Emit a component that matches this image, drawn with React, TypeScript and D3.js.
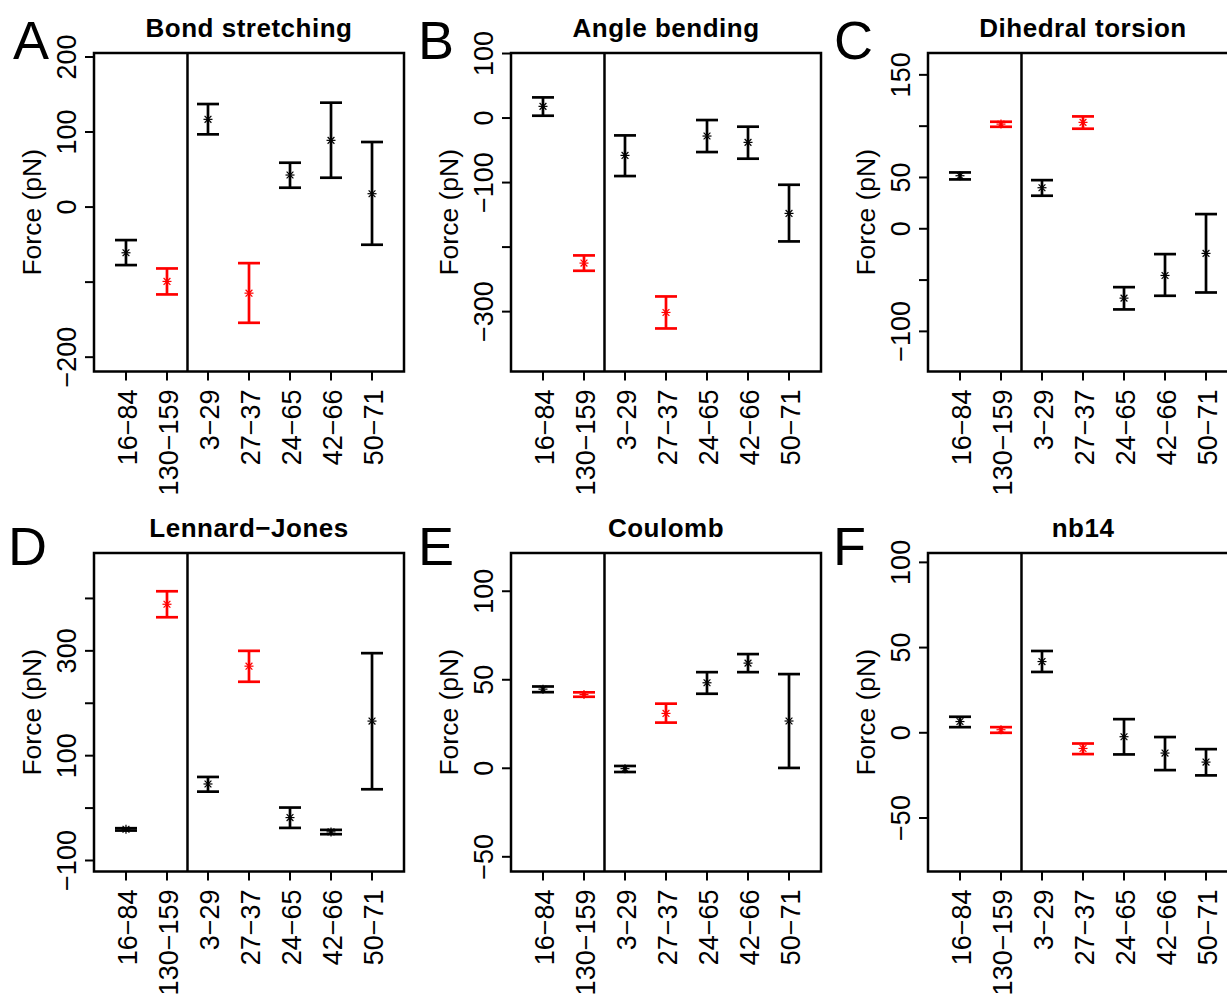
import React from "react";
import * as d3 from "d3";

const categories = ["16−84", "130−159", "3−29", "27−37", "24−65", "42−66", "50−71"];
const highlighted = [false, true, false, true, false, false, false];

const bondMean = [-60.9, -99.1, 116.9, -114.7, 42.7, 88.9, 17.8];
const bondLow = [-77.3, -116.4, 96.9, -154.2, 25.8, 39.1, -50.2];
const bondHigh = [-44, -81.8, 137.3, -74.7, 59.1, 139.1, 86.7];

const angleMean = [18.1, -224.8, -57.9, -301.3, -27.9, -37.7, -147.8];
const angleLow = [3.6, -236.7, -89.9, -326.1, -52.7, -63, -191.2];
const angleHigh = [32, -212.9, -26.9, -276.5, -3.1, -13.4, -103.4];

const dihedralMean = [51.7, 102, 40, 103.7, -67.6, -45.5, -24];
const dihedralLow = [48.1, 99.4, 32.2, 97.5, -78.6, -65.3, -62.1];
const dihedralHigh = [54.9, 104.3, 47.4, 109.5, -56.9, -24.7, 14.3];

const ljMean = [-40.3, 388.9, 46, 270.8, -18.1, -45.4, 166];
const ljLow = [-42.9, 364.1, 31.4, 241, -37.8, -49.8, 35.9];
const ljHigh = [-38.4, 413.7, 59.4, 300, 1, -41.6, 295.6];

const coulMean = [44.7, 41.7, -0.2, 31, 48.3, 59.4, 26.7];
const coulLow = [43, 40.4, -2.1, 25.8, 42.1, 54.3, 0.2];
const coulHigh = [46.2, 42.9, 1.3, 36.5, 54.3, 64.5, 53.2];

const nbMean = [6.6, 1.8, 41.8, -9.2, -2.3, -11.9, -17.2];
const nbLow = [3.3, 0, 35.7, -12.5, -12.7, -21.9, -25];
const nbHigh = [9.4, 3.3, 48, -6.3, 8, -2.5, -9.6];

const titles = ["Bond stretching", "Angle bending", "Dihedral torsion", "Lennard−Jones", "Coulomb", "nb14"];
const letters = ["A", "B", "C", "D", "E", "F"];

const yTicksA = [-200, -100, 0, 100, 200];
const yLabelsA = ["−200", "", "0", "100", "200"];
const yTicksB = [-300, -200, -100, 0, 100];
const yLabelsB = ["−300", "", "−100", "0", "100"];
const yTicksC = [-100, -50, 0, 50, 100, 150];
const yLabelsC = ["−100", "", "0", "50", "", "150"];
const yTicksD = [-100, 0, 100, 200, 300, 400];
const yLabelsD = ["−100", "", "100", "", "300", ""];
const yTicksE = [-50, 0, 50, 100];
const yLabelsE = ["−50", "0", "50", "100"];
const yTicksF = [-50, 0, 50, 100];
const yLabelsF = ["−50", "0", "50", "100"];

const panels = [
  { mean: bondMean, low: bondLow, high: bondHigh, domain: [-219.1, 205.3], ticks: yTicksA, labels: yLabelsA },
  { mean: angleMean, low: angleLow, high: angleHigh, domain: [-392.8, 100.8], ticks: yTicksB, labels: yLabelsB },
  { mean: dihedralMean, low: dihedralLow, high: dihedralHigh, domain: [-139.1, 171.3], ticks: yTicksC, labels: yLabelsC },
  { mean: ljMean, low: ljLow, high: ljHigh, domain: [-121, 486.7], ticks: yTicksD, labels: yLabelsD },
  { mean: coulMean, low: coulLow, high: coulHigh, domain: [-58.3, 121.6], ticks: yTicksE, labels: yLabelsE },
  { mean: nbMean, low: nbLow, high: nbHigh, domain: [-81.4, 105.5], ticks: yTicksF, labels: yLabelsF },
];

const boxLefts = [94, 511, 928];
const boxTops = [53, 553];
const letterX = [[13, 418, 834], [8, 418, 833]];
const letterBaseline = [59, 565];
const BOX_W = 310;
const BOX_H = 318.5;
const FONT = "'Liberation Sans', Arial, Helvetica, sans-serif";

function Panel({ idx }: { idx: number }) {
  const p = panels[idx];
  const col = idx % 3;
  const row = Math.floor(idx / 3);
  const left = boxLefts[col];
  const top = boxTops[row];
  const x = d3.scaleLinear().domain([0.22, 7.78]).range([left, left + BOX_W]);
  const y = d3.scaleLinear().domain(p.domain).range([top + BOX_H, top]);
  const bottom = top + BOX_H;
  const capHalf = 11;
  const s = 4.5;
  const d = 3.4;
  return (
    <g>
      <text x={letterX[row][col]} y={letterBaseline[row]} fontSize={54} fontFamily={FONT}>
        {letters[idx]}
      </text>
      <text
        x={left + BOX_W / 2}
        y={top - 16}
        fontSize={26}
        fontWeight="bold"
        textAnchor="middle"
        letterSpacing={0.5}
        fontFamily={FONT}
      >
        {titles[idx]}
      </text>
      <text
        transform={`translate(${left - 53},${top + BOX_H / 2}) rotate(-90)`}
        fontSize={26.5}
        textAnchor="middle"
        fontFamily={FONT}
      >
        Force (pN)
      </text>
      {p.ticks.map((t, i) => (
        <g key={"yt" + i}>
          <line x1={left - 9} x2={left} y1={y(t)} y2={y(t)} stroke="#000" strokeWidth={2} />
          {p.labels[i] !== "" && (
            <text
              transform={`translate(${left - 18},${y(t)}) rotate(-90)`}
              fontSize={27}
              textAnchor="middle"
              fontFamily={FONT}
            >
              {p.labels[i]}
            </text>
          )}
        </g>
      ))}
      {categories.map((c, i) => (
        <g key={"xt" + i}>
          <line x1={x(i + 1)} x2={x(i + 1)} y1={bottom} y2={bottom + 9} stroke="#000" strokeWidth={2} />
          <text
            transform={`translate(${x(i + 1) + 11},${bottom + 18}) rotate(-90)`}
            fontSize={27}
            textAnchor="end"
            fontFamily={FONT}
          >
            {c}
          </text>
        </g>
      ))}
      <line x1={x(2.5)} x2={x(2.5)} y1={top} y2={bottom} stroke="#000" strokeWidth={2.5} />
      {p.mean.map((m, i) => {
        const color = highlighted[i] ? "#FF0000" : "#000000";
        const cx = x(i + 1);
        const cy = y(m);
        return (
          <g key={"bar" + i} stroke={color}>
            <line x1={cx} x2={cx} y1={y(p.low[i])} y2={y(p.high[i])} strokeWidth={2.7} />
            <line x1={cx - capHalf} x2={cx + capHalf} y1={y(p.low[i])} y2={y(p.low[i])} strokeWidth={2.7} />
            <line x1={cx - capHalf} x2={cx + capHalf} y1={y(p.high[i])} y2={y(p.high[i])} strokeWidth={2.7} />
            <line x1={cx - s} x2={cx + s} y1={cy} y2={cy} strokeWidth={1.2} />
            <line x1={cx} x2={cx} y1={cy - s} y2={cy + s} strokeWidth={1.2} />
            <line x1={cx - d} x2={cx + d} y1={cy - d} y2={cy + d} strokeWidth={1.2} />
            <line x1={cx - d} x2={cx + d} y1={cy + d} y2={cy - d} strokeWidth={1.2} />
          </g>
        );
      })}
      <rect x={left} y={top} width={BOX_W} height={BOX_H} fill="none" stroke="#000" strokeWidth={2.5} />
    </g>
  );
}

export default function App() {
  return (
    <>
      <style>{`body{margin:0;}`}</style>
      <svg width={1227} height={994} style={{ display: "block", background: "#fff" }}>
        <rect width={1227} height={994} fill="#fff" />
        {panels.map((_, i) => (
          <Panel key={i} idx={i} />
        ))}
      </svg>
    </>
  );
}
